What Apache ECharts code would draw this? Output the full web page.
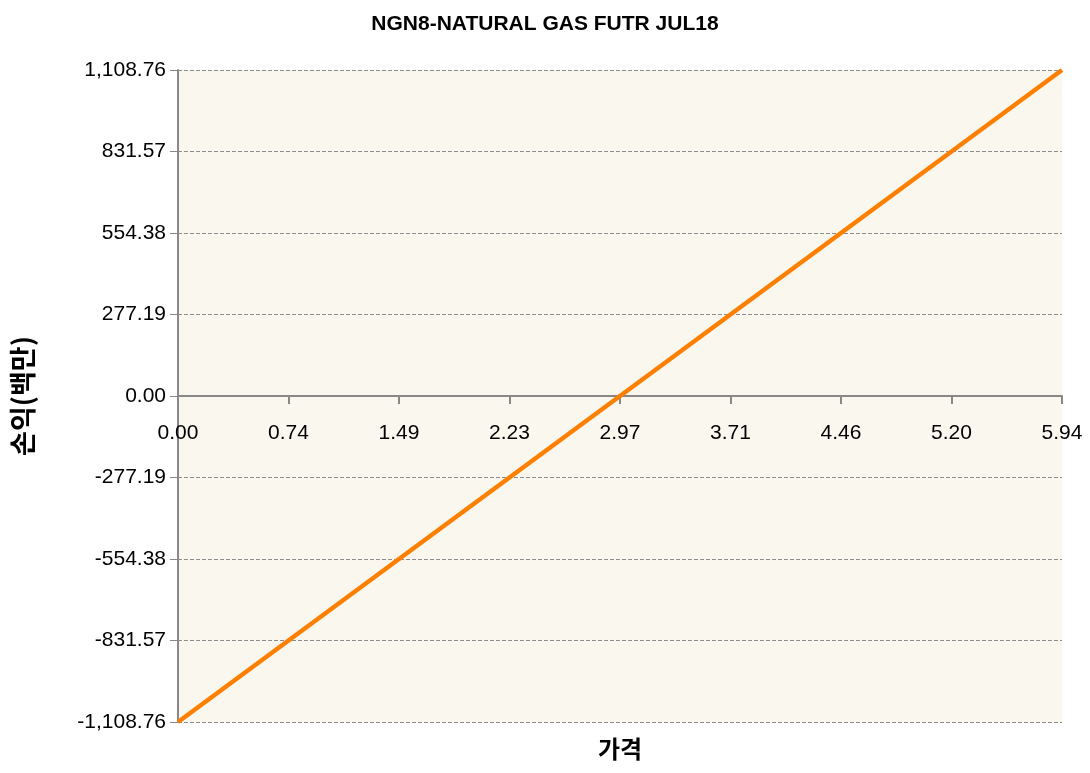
<!DOCTYPE html>
<html>
<head>
<meta charset="utf-8">
<script src="https://cdn.jsdelivr.net/npm/echarts@6/dist/echarts.min.js"></script>
<style>
  html, body { margin: 0; padding: 0; background: #ffffff; }
  #chart { width: 1090px; height: 773px; }
</style>
</head>
<body>
<div id="chart"></div>
<script>
// Payoff profile of a natural gas futures position
const chartTitle = 'NGN8-NATURAL GAS FUTR JUL18';
const xTitle = '가격';
const yTitle = '손익(백만)';

// Price axis ticks and labels
const priceMin = 0;
const priceMax = 5.94;
const priceStep = 0.7425;
const priceLabels = ['0.00', '0.74', '1.49', '2.23', '2.97', '3.71', '4.46', '5.20', '5.94'];

// P&L axis
const pnlMin = -1108.76;
const pnlMax = 1108.76;
const pnlStep = 277.19;

// Line endpoints: price, profit/loss
const prices = [0, 5.94];
const pnl = [-1108.76, 1108.76];

const FONT = '"Liberation Sans", "Noto Sans", sans-serif';
const KFONT = '"Noto Sans CJK KR", sans-serif';

// Price labels sit on the zero line, so they are carried by an invisible series at y = 0
const priceTickData = priceLabels.map((lab, i) => ({ value: [priceMin + i * priceStep, 0], name: lab }));

const chart = echarts.init(document.getElementById('chart'));
chart.setOption({
  animation: false,
  title: {
    text: chartTitle,
    left: 'center',
    top: 9,
    textStyle: { fontFamily: FONT, fontSize: 21, fontWeight: 'bold', color: '#000' }
  },
  grid: {
    left: 178, right: 28, top: 70, bottom: 51,
    outerBoundsMode: 'none',
    containLabel: false,
    show: true, backgroundColor: '#FAF7EF', borderWidth: 0
  },
  xAxis: {
    type: 'value',
    min: priceMin, max: priceMax, interval: priceStep,
    name: xTitle,
    nameLocation: 'middle',
    nameGap: 15,
    nameTextStyle: { fontFamily: KFONT, fontSize: 24, fontWeight: 'bold', color: '#000' },
    axisLine: { onZero: true, lineStyle: { color: '#888', width: 2 } },
    axisTick: { show: true, inside: false, length: 8, lineStyle: { color: '#888', width: 2 } },
    axisLabel: { show: false },
    splitLine: { show: false }
  },
  yAxis: {
    type: 'value',
    min: pnlMin, max: pnlMax, interval: pnlStep,
    name: yTitle,
    nameLocation: 'middle',
    nameGap: 142,
    nameRotate: 90,
    nameTextStyle: { fontFamily: KFONT, fontSize: 27, fontWeight: 'bold', color: '#000' },
    axisLine: { onZero: false, lineStyle: { color: '#888', width: 2 } },
    axisTick: { show: true, length: 8, lineStyle: { color: '#888', width: 1 } },
    axisLabel: {
      fontFamily: FONT, fontSize: 21, color: '#000', margin: 12,
      formatter: v => v.toLocaleString('en-US', { minimumFractionDigits: 2, maximumFractionDigits: 2 })
    },
    splitLine: { show: true, lineStyle: { color: '#8c8c8c', type: [4, 2], width: 1 } }
  },
  series: [{
    type: 'line',
    data: prices.map((p, i) => [p, pnl[i]]),
    showSymbol: false,
    lineStyle: { color: '#FF8000', width: 4.5 },
    itemStyle: { color: '#FF8000' },
    z: 3
  }, {
    type: 'scatter',
    data: priceTickData,
    symbolSize: 0,
    silent: true,
    z: 1,
    itemStyle: { opacity: 1 },
    label: {
      show: true,
      position: 'bottom',
      distance: 27,
      formatter: p => p.name,
      fontFamily: FONT, fontSize: 21, color: '#000'
    }
  }]
});
</script>
</body>
</html>
